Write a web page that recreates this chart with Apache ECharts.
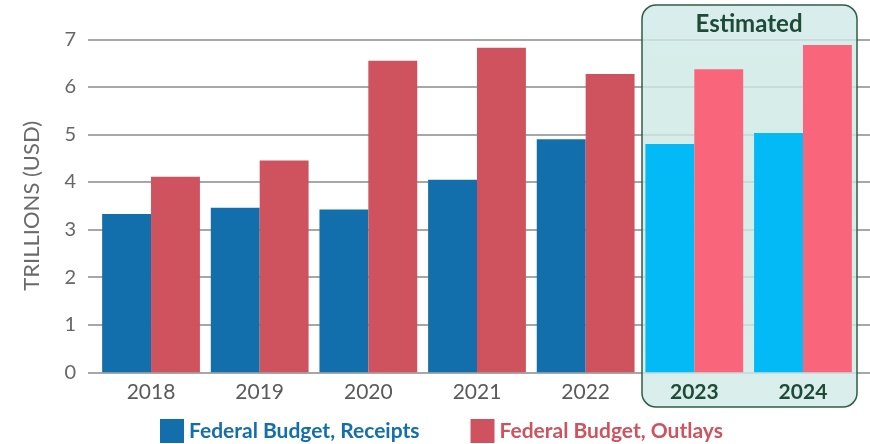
<!DOCTYPE html>
<html>
<head>
<meta charset="utf-8">
<script src="https://cdn.jsdelivr.net/npm/echarts@6/dist/echarts.min.js"></script>
<style>
  html, body { margin: 0; padding: 0; background: #ffffff; }
  #chart { width: 870px; height: 444px; }
</style>
</head>
<body>
<div id="chart"></div>
<script>
// Fiscal years shown on the category axis
const years = ['2018', '2019', '2020', '2021', '2022', '2023', '2024'];
// Federal receipts and outlays, trillions of USD
const receipts = [3.33, 3.46, 3.42, 4.05, 4.90, 4.80, 5.03];
const outlays = [4.11, 4.45, 6.55, 6.82, 6.27, 6.37, 6.88];
// Years from this index onward are estimates
const firstEstimateIndex = 5;
// Value axis ticks
const yTicks = [0, 1, 2, 3, 4, 5, 6, 7];

const receiptsColor = '#136fab';
const outlaysColor = '#cf535e';
const receiptsEstColor = '#03b9f6';
const outlaysEstColor = '#f9667c';
const estGreen = '#1d4b35';

const fontFamily = 'Lato, "Open Sans", sans-serif';

function styled(values, base, est) {
  return values.map((v, i) => ({
    value: v,
    itemStyle: { color: i >= firstEstimateIndex ? est : base }
  }));
}

const chart = echarts.init(document.getElementById('chart'), null, { renderer: 'canvas' });

const plotTop = 39.3;
const plotBottom = 444 - 372.3;

chart.setOption({
  animation: false,
  backgroundColor: '#ffffff',
  grid: [
    { left: 88, right: 0, top: plotTop, bottom: plotBottom },
    { left: 96.7, right: 12.7, top: plotTop, bottom: plotBottom }
  ],
  xAxis: [
    { gridIndex: 0, type: 'value', min: 0, max: 1, show: false },
    {
      gridIndex: 1,
      type: 'category',
      data: years,
      z: 3,
      axisLine: { show: false },
      axisTick: { show: false },
      axisLabel: {
        margin: 9,
        fontFamily: fontFamily,
        fontSize: 21,
        color: '#5a5a5a',
        formatter: (val, idx) => idx >= firstEstimateIndex ? '{e|' + val + '}' : val,
        rich: {
          e: { fontFamily: fontFamily, fontSize: 21, fontWeight: 'bold', color: estGreen }
        }
      }
    }
  ],
  yAxis: [
    {
      gridIndex: 0,
      type: 'value',
      min: yTicks[0],
      max: yTicks[yTicks.length - 1],
      interval: 1,
      name: 'TRILLIONS (USD)',
      nameLocation: 'middle',
      nameRotate: 90,
      nameGap: 45,
      nameTextStyle: { fontFamily: fontFamily, fontSize: 22, color: '#6a6a6a' },
      axisLine: { show: false },
      axisTick: { show: false },
      axisLabel: { margin: 12, fontFamily: fontFamily, fontSize: 20, color: '#666666' },
      splitLine: { show: true, lineStyle: { color: '#8a8a8a', width: 1.5 } }
    },
    {
      gridIndex: 1,
      type: 'value',
      min: yTicks[0],
      max: yTicks[yTicks.length - 1],
      interval: 1,
      show: false,
      splitLine: { show: false }
    }
  ],
  legend: {
    left: 160,
    top: 419,
    padding: 0,
    itemWidth: 24,
    itemHeight: 24,
    itemGap: 51,
    icon: 'rect',
    data: [
      { name: 'Federal Budget, Receipts', textStyle: { color: receiptsColor } },
      { name: 'Federal Budget, Outlays', textStyle: { color: outlaysColor } }
    ],
    textStyle: { fontFamily: fontFamily, fontSize: 21, fontWeight: 'bold' }
  },
  graphic: [
    {
      type: 'rect',
      z: 1,
      shape: { x: 642, y: 5, width: 215, height: 402, r: 14 },
      style: {
        fill: new echarts.graphic.LinearGradient(0, 0, 0, 1, [
          { offset: 0, color: 'rgba(208,234,232,0.82)' },
          { offset: 0.5, color: 'rgba(204,232,226,0.82)' },
          { offset: 1, color: 'rgba(210,234,232,0.82)' }
        ]),
        stroke: '#2f5e47',
        lineWidth: 1.5
      }
    },
    {
      type: 'text',
      z: 3,
      x: 749,
      y: 24,
      style: {
        text: 'Estimated',
        align: 'center',
        verticalAlign: 'middle',
        fontFamily: fontFamily,
        fontSize: 24,
        fontWeight: 'bold',
        fill: estGreen
      }
    }
  ],
  series: [
    {
      name: 'Federal Budget, Receipts',
      type: 'bar',
      xAxisIndex: 1,
      yAxisIndex: 1,
      z: 4,
      barGap: '0%',
      barCategoryGap: '10%',
      itemStyle: { color: receiptsColor },
      data: styled(receipts, receiptsColor, receiptsEstColor)
    },
    {
      name: 'Federal Budget, Outlays',
      type: 'bar',
      xAxisIndex: 1,
      yAxisIndex: 1,
      z: 4,
      barGap: '0%',
      barCategoryGap: '10%',
      itemStyle: { color: outlaysColor },
      data: styled(outlays, outlaysColor, outlaysEstColor)
    }
  ]
});
</script>
</body>
</html>
